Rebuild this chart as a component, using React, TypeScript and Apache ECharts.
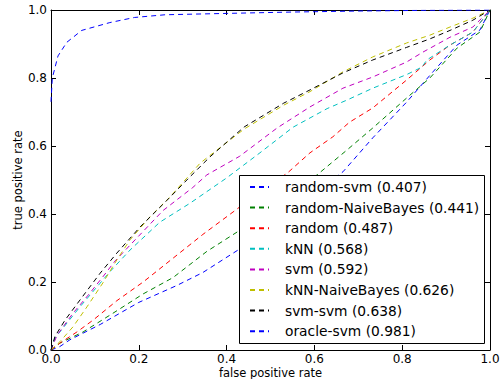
import React, { useEffect, useRef } from "react";
import * as echarts from "echarts";

const seriesNames = [
  "random-svm (0.407)",
  "random-NaiveBayes (0.441)",
  "random (0.487)",
  "kNN (0.568)",
  "svm (0.592)",
  "kNN-NaiveBayes (0.626)",
  "svm-svm (0.638)",
  "oracle-svm (0.981)",
];
const seriesColors = ["#0000ff", "#008000", "#ff0000", "#00bfbf", "#bf00bf", "#bfbf00", "#000000", "#0000ff"];

const randomSvm = [
  [0, 0], [0.02, 0.01], [0.043, 0.03], [0.112, 0.075], [0.2, 0.14], [0.287, 0.19], [0.346, 0.228],
  [0.426, 0.294], [0.5, 0.36], [0.58, 0.44], [0.665, 0.524], [0.733, 0.624], [0.81, 0.729],
  [0.87, 0.818], [0.925, 0.897], [0.977, 0.941], [1, 1],
];
const randomNaiveBayes = [
  [0, 0], [0.02, 0.02], [0.073, 0.053], [0.141, 0.108], [0.21, 0.165], [0.278, 0.213], [0.355, 0.29],
  [0.424, 0.347], [0.5, 0.42], [0.606, 0.515], [0.674, 0.588], [0.733, 0.653], [0.81, 0.741],
  [0.863, 0.8], [0.925, 0.888], [0.977, 0.935], [1, 1],
];
const randomClf = [
  [0, 0], [0.02, 0.02], [0.059, 0.053], [0.096, 0.088], [0.15, 0.145], [0.21, 0.2], [0.278, 0.27],
  [0.346, 0.34], [0.419, 0.41], [0.48, 0.47], [0.538, 0.52], [0.59, 0.58], [0.642, 0.627],
  [0.68, 0.67], [0.733, 0.712], [0.81, 0.794], [0.863, 0.853], [0.909, 0.897], [0.961, 0.935], [1, 1],
];
const knn = [
  [0, 0], [0.009, 0.035], [0.066, 0.127], [0.134, 0.23], [0.18, 0.294], [0.248, 0.376], [0.317, 0.432],
  [0.4, 0.506], [0.476, 0.58], [0.551, 0.655], [0.629, 0.71], [0.674, 0.735], [0.733, 0.77],
  [0.81, 0.81], [0.845, 0.832], [0.856, 0.853], [0.909, 0.897], [0.961, 0.935], [1, 1],
];
const svm = [
  [0, 0], [0.014, 0.044], [0.05, 0.108], [0.089, 0.168], [0.118, 0.215], [0.146, 0.262], [0.196, 0.33],
  [0.255, 0.41], [0.323, 0.478], [0.355, 0.515], [0.43, 0.57], [0.515, 0.653], [0.59, 0.715],
  [0.665, 0.77], [0.733, 0.803], [0.81, 0.847], [0.847, 0.876], [0.909, 0.92], [0.961, 0.95], [1, 1],
];
const knnNaiveBayes = [
  [0, 0], [0.02, 0.024], [0.05, 0.068], [0.082, 0.127], [0.118, 0.197], [0.15, 0.265], [0.18, 0.324],
  [0.225, 0.391], [0.271, 0.45], [0.34, 0.55], [0.44, 0.65], [0.53, 0.72], [0.59, 0.76],
  [0.665, 0.818], [0.733, 0.862], [0.81, 0.903], [0.863, 0.926], [0.909, 0.95], [0.961, 0.976], [1, 1],
];
const svmSvm = [
  [0, 0], [0.009, 0.04], [0.032, 0.088], [0.066, 0.147], [0.112, 0.226], [0.15, 0.285], [0.203, 0.362],
  [0.264, 0.44], [0.317, 0.51], [0.362, 0.568], [0.44, 0.656], [0.53, 0.726], [0.59, 0.765],
  [0.665, 0.815], [0.733, 0.853], [0.81, 0.89], [0.863, 0.915], [0.909, 0.94], [0.961, 0.97], [1, 1],
];
const oracleSvm = [
  [0, 0.73], [0.003, 0.8], [0.016, 0.865], [0.036, 0.905], [0.07, 0.94], [0.134, 0.963], [0.19, 0.978],
  [0.26, 0.986], [0.4, 0.99], [0.55, 0.994], [0.7, 0.997], [0.85, 0.999], [1, 1],
];

const allData = [randomSvm, randomNaiveBayes, randomClf, knn, svm, knnNaiveBayes, svmSvm, oracleSvm];

const FONT = "DejaVu Sans";

export default function App() {
  const ref = useRef<HTMLDivElement>(null);
  useEffect(() => {
    if (!ref.current) return;
    const chart = echarts.init(ref.current, undefined, { renderer: "svg" });
    const tickLabelFmt = (v: number) => v.toFixed(1);
    const baseAxis = {
      type: "value" as const,
      min: 0,
      max: 1,
      interval: 0.2,
      splitLine: { show: false },
      axisLine: { show: true, onZero: false, lineStyle: { color: "#000", width: 1 } },
      axisTick: { show: true, inside: true, length: 5, lineStyle: { color: "#000" } },
    };
    chart.setOption({
      animation: false,
      backgroundColor: "#fff",
      grid: { left: 51, right: 10, top: 10, bottom: 29, containLabel: false, outerBoundsMode: "none" },
      xAxis: [
        {
          ...baseAxis,
          position: "bottom",
          name: "false positive rate",
          nameLocation: "middle",
          nameMoveOverlap: false,
          nameGap: 17,
          nameTextStyle: { fontFamily: FONT, fontSize: 11.5, color: "#000" },
          axisLabel: { formatter: tickLabelFmt, fontFamily: FONT, fontSize: 12, color: "#000", margin: 3 },
        },
        {
          ...baseAxis,
          position: "top",
          axisLabel: { show: false },
        },
      ],
      yAxis: [
        {
          ...baseAxis,
          position: "left",
          name: "true positive rate",
          nameLocation: "middle",
          nameMoveOverlap: false,
          nameGap: 27,
          nameTextStyle: { fontFamily: FONT, fontSize: 11.5, color: "#000" },
          axisLabel: { formatter: tickLabelFmt, fontFamily: FONT, fontSize: 12, color: "#000", margin: 4 },
        },
        {
          ...baseAxis,
          position: "right",
          axisLabel: { show: false },
        },
      ],
      graphic: [
        {
          type: "rect",
          z: 50,
          shape: { x: 239.5, y: 175.5, width: 245, height: 168 },
          style: { fill: "#fff", stroke: "#000", lineWidth: 1 },
        },
      ],
      legend: {
        orient: "vertical",
        left: 239,
        top: 175,
        z: 60,
        padding: [5, 6, 5, 10],
        itemWidth: 19,
        itemHeight: 14,
        itemGap: 6.6,
        itemStyle: { opacity: 0 },
        textStyle: { fontFamily: FONT, fontSize: 13.8, lineHeight: 14, color: "#000", padding: [0, 0, 0, 11] },
        data: seriesNames,
      },
      series: allData.map((d, i) => ({
        type: "line",
        name: seriesNames[i],
        data: d,
        showSymbol: false,
        symbol: "none",
        color: seriesColors[i],
        lineStyle: { color: seriesColors[i], width: 1, type: [5, 4] },
      })),
    });
    return () => chart.dispose();
  }, []);
  return <div ref={ref} style={{ width: 500, height: 379, position: "absolute", left: 0, top: 0 }} />;
}
